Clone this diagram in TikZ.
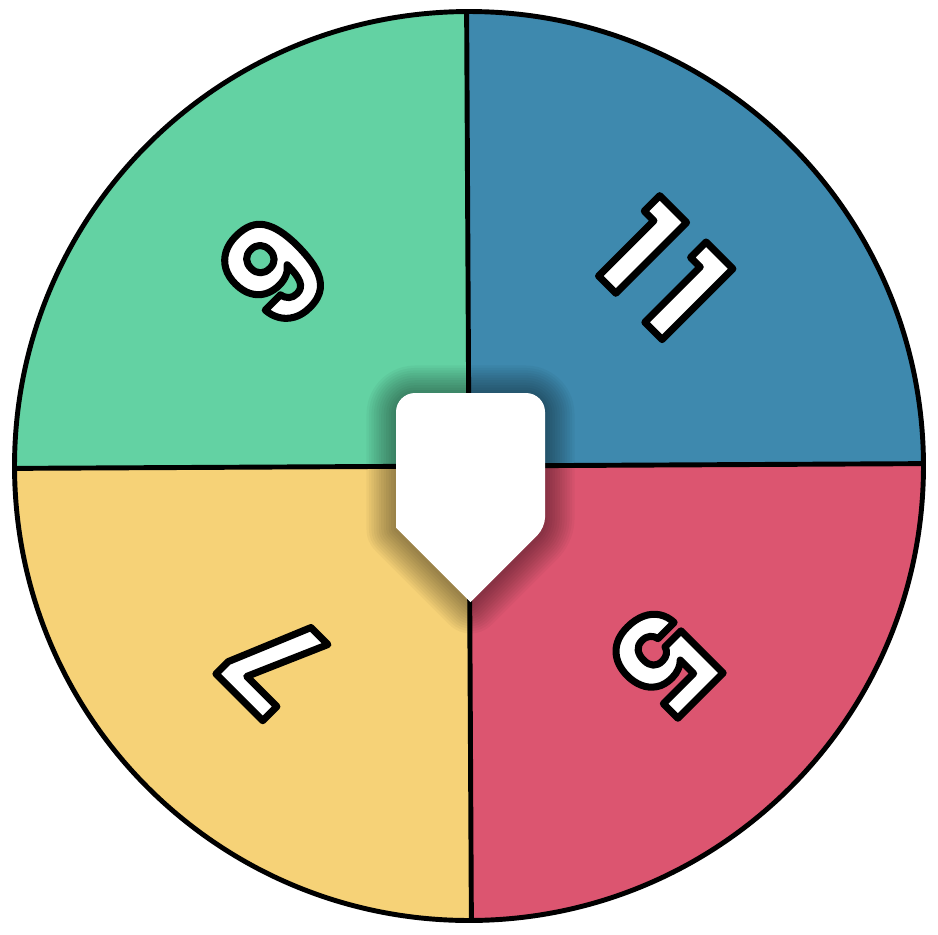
\documentclass[tikz,border=0pt]{standalone}
\usepackage{fontspec}
\setmainfont{Poppins}

\definecolor{wheelblue}{HTML}{3E89AE}
\definecolor{wheelgreen}{HTML}{63D2A3}
\definecolor{wheelyellow}{HTML}{F6D277}
\definecolor{wheelred}{HTML}{DC5570}

% white glyphs with a black stroke round them
\newcommand{\outlined}[1]{\special{pdf:literal direct 2 Tr 2 w 1 j 0 0 0 RG}#1\special{pdf:literal direct 0 Tr}}

% pointer outline in the middle of the wheel
\newcommand{\pointerpath}{(4.705,3.32) -- (3.96,4.065) [rounded corners=0.1cm] -- (3.96,4.4)
    [rounded corners=0.19cm] -- (3.96,5.41) -- (5.45,5.41) -- (5.45,4.4) [rounded corners=0.1cm]
    -- (5.45,4.065) [sharp corners] -- cycle}

\begin{document}
\begin{tikzpicture}[
    rim/.style={draw=black, line width=1.4pt},
    digit/.style={text=white, font=\fontsize{39}{44}\selectfont\bfseries, inner sep=0pt},
  ]
    \useasboundingbox[fill=white] (0,0) rectangle (9.38,9.34);
    \coordinate (hub) at (4.69,4.68);

    % wheel
    \begin{scope}[shift={(hub)}, rotate=0.3]
        \foreach \a/\col/\num in {0/wheelblue/{1\kern4pt1}, 90/wheelgreen/9, 180/wheelyellow/7, 270/wheelred/5} {
            \fill[\col] (0,0) -- (\a:4.545) arc (\a:\a+90:4.545) -- cycle;
            \node[digit, rotate=\a-45] (num-\a) at (\a+45:2.76) {\outlined{\num}};
        }
        \draw[rim] (0,0) circle (4.545);
        \draw[rim] (-4.545,0) -- (4.545,0);
        \draw[rim] (0,-4.545) -- (0,4.545);
    \end{scope}

    % soft shadow
    \foreach \w in {1,...,12}
        \draw[black, opacity=0.035, line width=\w*1.4pt, line join=round, yshift=-0.02cm] \pointerpath;
    \fill[white] \pointerpath;
\end{tikzpicture}
\end{document}
